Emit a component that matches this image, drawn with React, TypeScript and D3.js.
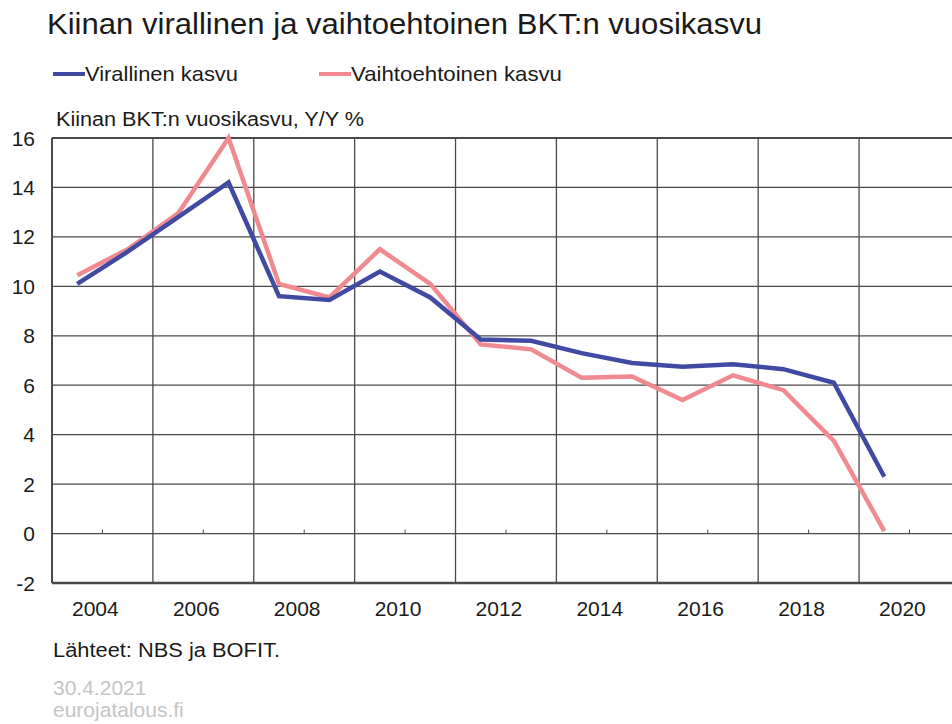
import React from 'react'
import * as d3 from 'd3'

// vuodet ja kasvuluvut (Y/Y %)
const years = [2004, 2005, 2006, 2007, 2008, 2009, 2010, 2011, 2012, 2013, 2014, 2015, 2016, 2017, 2018, 2019, 2020]
const official = [10.1, 11.4, 12.8, 14.2, 9.6, 9.45, 10.6, 9.55, 7.85, 7.8, 7.3, 6.9, 6.75, 6.85, 6.65, 6.1, 2.3]
const alternative = [10.45, 11.5, 12.95, 16.0, 10.1, 9.55, 11.5, 10.1, 7.65, 7.45, 6.3, 6.35, 5.4, 6.4, 5.8, 3.75, 0.1]
const yTicks = [-2, 0, 2, 4, 6, 8, 10, 12, 14, 16]
const xLabels = [2004, 2006, 2008, 2010, 2012, 2014, 2016, 2018, 2020]

const W = 952
const H = 724
const font = '"Liberation Sans", Arial, sans-serif'
const BLUE = '#414aa2'
const PINK = '#f08a90'

const App = () => {
  const left = 52,
    right = 952,
    top = 138,
    bottom = 583

  // vuosi = kaista, data kaistan keskellä
  const x = d3
    .scaleLinear()
    .domain([2004, 2021])
    .range([left, 909.5])
  const y = d3
    .scaleLinear()
    .domain([-2, 16])
    .range([bottom, top])
  const bw = x(2005) - x(2004)

  const line = d3
    .line<number>()
    .x((d, i) => x(years[i] + 0.5))
    .y(d => y(d))

  // gridlines x: every 2 years, ticks at odd years on the 0 line
  const xGrid = d3.range(2006, 2021, 2)
  const smallTicks = d3.range(2005, 2022, 2)

  return (
    <svg width={W} height={H} style={{ position: 'absolute', left: 0, top: 0, background: '#fff' }}>
      <text x={47} y={34} fontFamily={font} fontSize={30} fill="#1a1a1a" textLength={715} lengthAdjust="spacingAndGlyphs">
        Kiinan virallinen ja vaihtoehtoinen BKT:n vuosikasvu
      </text>

      {/* legend */}
      <line x1={53} x2={85} y1={74} y2={74} stroke={BLUE} strokeWidth={4} />
      <text x={85} y={81} fontFamily={font} fontSize={21} fill="#1a1a1a" textLength={153} lengthAdjust="spacingAndGlyphs">
        Virallinen kasvu
      </text>
      <line x1={319} x2={351} y1={74} y2={74} stroke={PINK} strokeWidth={4} />
      <text x={351} y={81} fontFamily={font} fontSize={21} fill="#1a1a1a" textLength={211} lengthAdjust="spacingAndGlyphs">
        Vaihtoehtoinen kasvu
      </text>

      <text x={56} y={126} fontFamily={font} fontSize={20} fill="#1a1a1a" textLength={308} lengthAdjust="spacingAndGlyphs">
        Kiinan BKT:n vuosikasvu,  Y/Y %
      </text>

      {/* horizontal gridlines */}
      {yTicks.map(t => (
        <line
          key={'h' + t}
          x1={left}
          x2={right}
          y1={y(t)}
          y2={y(t)}
          stroke="#4a4a4a"
          strokeWidth={t === -2 ? 2.5 : t === 16 ? 2 : 1.3}
        />
      ))}
      {/* vertical gridlines */}
      <line x1={left} x2={left} y1={top} y2={bottom} stroke="#4a4a4a" strokeWidth={2} />
      {xGrid.map(v => (
        <line key={'v' + v} x1={x(v)} x2={x(v)} y1={top} y2={bottom} stroke="#4a4a4a" strokeWidth={1.3} />
      ))}
      {smallTicks.map(v => (
        <line key={'t' + v} x1={x(v)} x2={x(v)} y1={y(0)} y2={y(0) - 4} stroke="#4a4a4a" strokeWidth={1} />
      ))}

      {/* y labels */}
      {yTicks.map(t => (
        <text key={'yl' + t} x={35} y={y(t) + 7.5} textAnchor="end" fontFamily={font} fontSize={21} fill="#1a1a1a">
          {t}
        </text>
      ))}
      {/* x labels */}
      {xLabels.map(v => (
        <text key={'xl' + v} x={x(v) + bw * 0.86} y={616} textAnchor="middle" fontFamily={font} fontSize={21} fill="#1a1a1a">
          {v}
        </text>
      ))}

      <path d={line(alternative) || ''} fill="none" stroke={PINK} strokeWidth={4.5} strokeLinejoin="miter" />
      <path d={line(official) || ''} fill="none" stroke={BLUE} strokeWidth={4.5} strokeLinejoin="miter" />

      <text x={53} y={657} fontFamily={font} fontSize={20} fill="#1a1a1a" textLength={227} lengthAdjust="spacingAndGlyphs">
        Lähteet: NBS ja BOFIT.
      </text>
      <text x={53} y={695} fontFamily={font} fontSize={21} fill="#c4c4c4">
        30.4.2021
      </text>
      <text x={53} y={717} fontFamily={font} fontSize={21} fill="#c4c4c4">
        eurojatalous.fi
      </text>
    </svg>
  )
}

export default App
